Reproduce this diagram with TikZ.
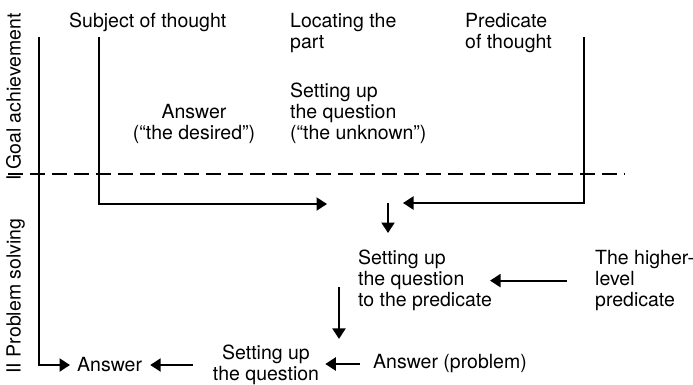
\documentclass[tikz,border=0pt]{standalone}
\usepackage{fontspec}
\setmainfont{TeX Gyre Heros}
\usepackage{tikz}
\usetikzlibrary{arrows.meta,positioning,calc}

\begin{document}
\begin{tikzpicture}[
	x=1pt,y=-1pt,
	>={Triangle[length=10.5pt,width=13pt]},
	every node/.style={font=\fontsize{19.5}{21}\selectfont, inner sep=0pt},
	flow/.style={line width=2.2pt},
	txt/.style={align=left, anchor=north west}
	]
	
	\useasboundingbox (0,0) rectangle (693,384);
	
	% --------------------------
	% Side labels and the dashed border
	% --------------------------
	\node[rotate=90, anchor=base] (goal) at (20.5,97) {I Goal achievement};
	\node[rotate=90, anchor=base] (solving) at (20.5,296) {II Problem solving};
	
	\coordinate (dashL) at (8,174);
	\coordinate (dashR) at (625,174);
	\draw[line width=2.1pt, dash pattern=on 15pt off 7pt] (dashL) -- (dashR);
	
	% --------------------------
	% Part I: goal achievement
	% --------------------------
	\node[txt] (subject) at (69,13) {Subject of thought};
	\node[txt] (locating) at (290,13) {Locating the\\part};
	\node[txt] (predicate) at (465,13) {Predicate\\of thought};
	\node[txt] (unknown) at (290,83) {Setting up\\the question\\(“the unknown”)};
	\node[align=center, anchor=north] (desired) at (194,104) {Answer\\(“the desired”)};
	
	% --------------------------
	% Part II: problem solving
	% --------------------------
	\node[txt] (topred) at (358,250) {Setting up\\the question\\to the predicate};
	\node[txt] (higher) at (595,250) {The higher-\\level\\predicate};
	\node[anchor=west] (ansprob) at (373,364) {Answer (problem)};
	\node[align=center] (setq) at (266,365) {Setting up\\the question};
	\node[anchor=west] (answer) at (77,365) {Answer};
	
	% --------------------------
	% Connectors
	% --------------------------
	\coordinate (lefttop) at (39,37);
	\coordinate (subjtop) at (99,37);
	\coordinate (subjend) at (327,204);
	\coordinate (predtop) at (584,37);
	\coordinate (predend) at (403,203);
	\coordinate (meet) at (388,203);
	\coordinate (down) at (339,287);
	
	\draw[flow,->] (subjtop) |- (subjend);
	\draw[flow,->] (predtop) |- (predend);
	\draw[flow,->,shorten >=17pt] (meet) -- (meet |- topred.north);
	\draw[flow,->,shorten <=28pt,shorten >=-2pt] (higher.west |- topred.east) -- (topred.east);
	\draw[flow,->,shorten >=6pt] (down) -- (down |- setq.north);
	\draw[flow,->,shorten <=13pt,shorten >=6pt] (ansprob.west) -- (ansprob.west -| setq.east);
	\draw[flow,->,shorten <=20pt,shorten >=8pt] (setq.west |- answer.east) -- (answer.east);
	\draw[flow,->,shorten >=7pt] (lefttop) |- (answer.west);
	
\end{tikzpicture}
\end{document}
